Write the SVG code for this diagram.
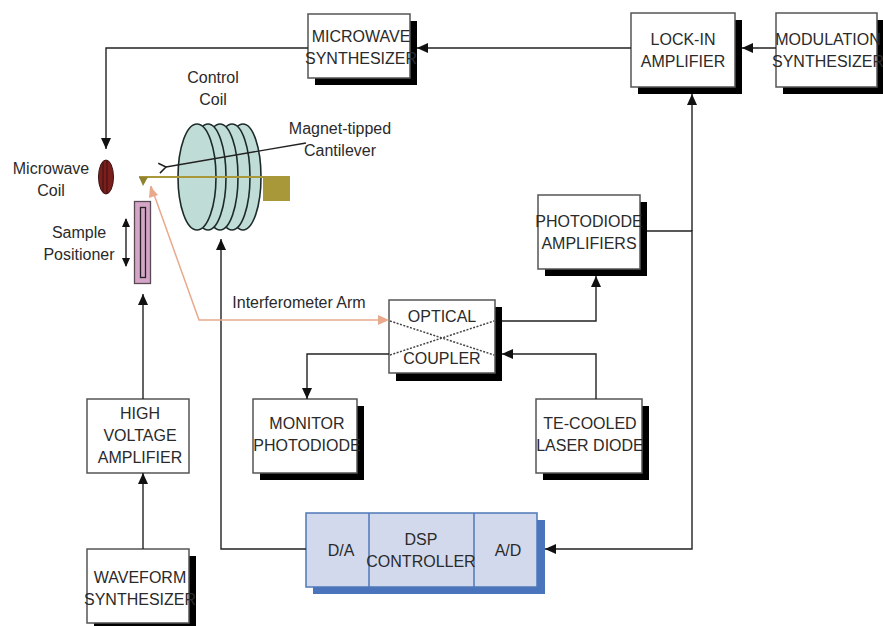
<svg xmlns="http://www.w3.org/2000/svg" width="883" height="626" viewBox="0 0 883 626">
<defs>
<marker id="a" markerWidth="12" markerHeight="10" refX="11" refY="5" orient="auto" markerUnits="userSpaceOnUse"><path d="M0 0L11 5L0 10Z" fill="#111"/></marker>
<marker id="p" markerWidth="12" markerHeight="10" refX="11" refY="5" orient="auto" markerUnits="userSpaceOnUse"><path d="M0 0L11 5L0 10Z" fill="#e8a98c"/></marker>
<marker id="o" markerWidth="12" markerHeight="12" refX="1" refY="6" orient="auto" markerUnits="userSpaceOnUse"><path d="M8 1L1 6L8 11" fill="none" stroke="#222" stroke-width="1.5"/></marker>
</defs>
<style>
text{font-family:"Liberation Sans",Arial,sans-serif;font-size:16px;fill:#2a2a2a;text-anchor:middle}
.s{fill:#000}
.b{fill:#fff;stroke:#555;stroke-width:1.5}
.c{fill:none;stroke:#222;stroke-width:1.4}
.d{fill:#c0dcd6;stroke:#1c2b2a;stroke-width:1.6}
.q{fill:#d3d9ec;stroke:#4f78b8;stroke-width:1.5}
</style>
<rect width="883" height="626" fill="#fff"/>
<g id="control-coil">
<ellipse cx="243" cy="177" rx="18" ry="53" class="d"/>
<ellipse cx="232" cy="177" rx="18" ry="53" class="d"/>
<ellipse cx="220" cy="177" rx="18" ry="53" class="d"/>
<ellipse cx="208" cy="177" rx="18" ry="53" class="d"/>
<ellipse cx="197" cy="177" rx="19" ry="53" class="d"/>
<text x="213" y="83">Control</text><text x="213" y="105">Coil</text>
</g>
<g id="cantilever">
<rect x="263" y="176" width="27" height="25" fill="#a8983a"/>
<path d="M139 177H263" stroke="#a8983a" stroke-width="2.2" fill="none"/>
<path d="M139 177H148L143 186Z" fill="#8f8230"/>
<text x="340" y="134">Magnet-tipped</text><text x="340" y="156">Cantilever</text>
</g>
<g id="microwave-coil">
<ellipse cx="106" cy="177" rx="7.5" ry="17" fill="#7a1f1c" stroke="#3a1010"/>
<path d="M103 162V192M107 161V193" stroke="#3a1010" fill="none"/>
<text x="51" y="174">Microwave</text><text x="51" y="196">Coil</text>
</g>
<g id="sample-positioner">
<rect x="134.500" y="201.500" width="16" height="82" fill="#d5a5c8" stroke="#5a4a55" stroke-width="1.300"/>
<rect x="140.500" y="207.500" width="5" height="70" fill="none" stroke="#222" stroke-width="1.300"/>
<text x="79" y="238">Sample</text><text x="79" y="260">Positioner</text>
<path d="M126 219V266" class="c"/>
<path d="M122 227L126 218L130 227ZM122 258L126 267L130 258Z" fill="#111"/>
</g>
<g id="microwave-synthesizer"><rect x="315" y="21" width="102" height="64" class="s"/><rect x="308" y="14" width="102" height="64" class="b"/><text x="361" y="42">MICROWAVE</text><text x="361" y="64">SYNTHESIZER</text></g>
<g id="lock-in-amplifier"><rect x="638" y="20" width="104" height="74" class="s"/><rect x="631" y="13" width="104" height="74" class="b"/><text x="683" y="45">LOCK-IN</text><text x="683" y="67">AMPLIFIER</text></g>
<g id="modulation-synthesizer"><rect x="783" y="20" width="101" height="74" class="s"/><rect x="776" y="13" width="101" height="74" class="b"/><text x="828" y="45">MODULATION</text><text x="828" y="67">SYNTHESIZER</text></g>
<g id="photodiode-amplifiers"><rect x="545" y="202" width="102" height="74" class="s"/><rect x="538" y="195" width="102" height="74" class="b"/><text x="589" y="227">PHOTODIODE</text><text x="589" y="249">AMPLIFIERS</text></g>
<g id="optical-coupler"><rect x="396" y="307" width="106" height="74" class="s"/><rect x="389" y="300" width="106" height="73" class="b"/>
<path d="M390 321L494 355M390 355L494 321" stroke="#444" stroke-width="1.500" stroke-dasharray="2 1.500" fill="none"/>
<text x="442" y="322">OPTICAL</text><text x="442" y="364">COUPLER</text></g>
<g id="monitor-photodiode"><rect x="260" y="406" width="104" height="74" class="s"/><rect x="253" y="399" width="104" height="74" class="b"/><text x="307" y="429">MONITOR</text><text x="307" y="451">PHOTODIODE</text></g>
<g id="te-cooled-laser-diode"><rect x="543" y="406" width="106" height="74" class="s"/><rect x="536" y="399" width="106" height="74" class="b"/><text x="590" y="429">TE-COOLED</text><text x="590" y="451">LASER DIODE</text></g>
<g id="high-voltage-amplifier"><rect x="87" y="399" width="102" height="74" class="b"/><text x="140" y="419">HIGH</text><text x="140" y="441">VOLTAGE</text><text x="140" y="463">AMPLIFIER</text></g>
<g id="waveform-synthesizer"><rect x="94" y="556" width="102" height="70" class="s"/><rect x="87" y="549" width="102" height="74" class="b"/><text x="140" y="583">WAVEFORM</text><text x="140" y="605">SYNTHESIZER</text></g>
<g id="dsp-controller"><rect x="313" y="520" width="232" height="74" fill="#4a74bb"/><rect x="306" y="513" width="231" height="74" class="q"/><path d="M369 513V587M474 513V587" stroke="#4f78b8" stroke-width="1.500"/>
<text x="341" y="556">D/A</text><text x="421" y="545">DSP</text><text x="421" y="567">CONTROLLER</text><text x="508" y="556">A/D</text></g>
<g id="connectors">
<path d="M631 48H417" class="c" marker-end="url(#a)"/>
<path d="M308 48H106V149" class="c" marker-end="url(#a)"/>
<path d="M776 48H742" class="c" marker-end="url(#a)"/>
<path d="M692 231V94" class="c" marker-end="url(#a)"/>
<path d="M647 231H692V549H545" class="c" marker-end="url(#a)"/>
<path d="M502 321H596V276" class="c" marker-end="url(#a)"/>
<path d="M596 399V354H502" class="c" marker-end="url(#a)"/>
<path d="M389 354H307V399" class="c" marker-end="url(#a)"/>
<path d="M143 549V473" class="c" marker-end="url(#a)"/>
<path d="M143 399V294" class="c" marker-end="url(#a)"/>
<path d="M306 549H221V239" class="c" marker-end="url(#a)"/>
<path d="M386 320H199L151 186" fill="none" stroke="#e8a98c" stroke-width="1.500"/>
<path d="M389 320L378 315V325Z" fill="#e8a98c"/>
<path d="M150 186L149 198L158 195Z" fill="#e8a98c"/>
<text x="299" y="308">Interferometer Arm</text>
<path d="M306 143L166 167" class="c" marker-end="url(#o)"/>
</g>
</svg>
